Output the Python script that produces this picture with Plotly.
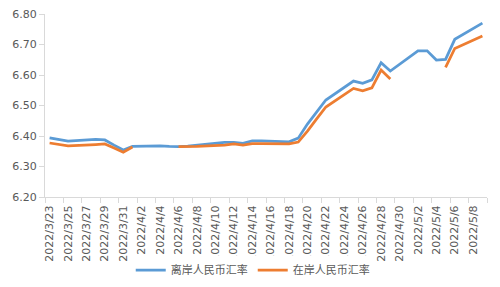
import plotly.graph_objects as go

dates = ["2022-03-23", "2022-03-24", "2022-03-25", "2022-03-28", "2022-03-29", "2022-03-30",
         "2022-03-31", "2022-04-01", "2022-04-04", "2022-04-05", "2022-04-06", "2022-04-07",
         "2022-04-08", "2022-04-11", "2022-04-12", "2022-04-13", "2022-04-14", "2022-04-15",
         "2022-04-18", "2022-04-19", "2022-04-20", "2022-04-21", "2022-04-22", "2022-04-25",
         "2022-04-26", "2022-04-27", "2022-04-28", "2022-04-29", "2022-05-02", "2022-05-03",
         "2022-05-04", "2022-05-05", "2022-05-06", "2022-05-09"]

offshore = [6.394, 6.388, 6.383, 6.389, 6.387, 6.370,
            6.354, 6.366, 6.368, 6.366, 6.365, 6.367,
            6.370, 6.379, 6.379, 6.376, 6.384, 6.384,
            6.381, 6.393, 6.439, 6.479, 6.518, 6.580,
            6.573, 6.584, 6.640, 6.613, 6.679, 6.679,
            6.649, 6.651, 6.717, 6.770]

onshore = [6.377, 6.372, 6.368, 6.372, 6.374, 6.361,
           6.347, 6.364, None, None, 6.365, 6.365,
           6.366, 6.370, 6.374, 6.370, 6.375, 6.375,
           6.374, 6.380, 6.416, 6.456, 6.495, 6.556,
           6.548, 6.558, 6.616, 6.587, None, None,
           None, 6.625, 6.687, 6.728]

names = ["离岸人民币汇率", "在岸人民币汇率"]
colors = ["#5B9BD5", "#ED7D31"]

DAY = 86400000
TICKFONT = "DejaVu Sans, sans-serif"
GRAY_TEXT = "#595959"
AXIS = "#D9D9D9"

fig = go.Figure()
for name, vals, col in zip(names, [offshore, onshore], colors):
    fig.add_trace(go.Scatter(x=dates, y=vals, mode="lines", name=name,
                             line=dict(color=col, width=2.75),
                             connectgaps=False))

fig.update_layout(
    width=500, height=287,
    margin=dict(l=45, r=13, t=14, b=90, autoexpand=False),
    paper_bgcolor="white", plot_bgcolor="white",
    font=dict(family=TICKFONT, size=11, color=GRAY_TEXT),
    showlegend=True,
    legend=dict(orientation="h", x=0.47, xanchor="center", y=-0.40, yanchor="middle",
                font=dict(family="Noto Sans CJK SC, sans-serif", size=11, color=GRAY_TEXT),
                itemwidth=30, traceorder="normal"),
    xaxis=dict(
        type="date", automargin=False,
        range=["2022-03-22 12:00", "2022-05-09 12:00"],
        tickmode="linear", tick0="2022-03-23", dtick=2 * DAY,
        tickformat="%Y/%-m/%-d", tickangle=-90,
        ticks="", ticklabelstandoff=3, showgrid=False, zeroline=False,
        showline=True, linecolor=AXIS, linewidth=1,
        tickfont=dict(family=TICKFONT, size=11, color=GRAY_TEXT),
        minor=dict(ticks="outside", ticklen=5, tickcolor=AXIS, tickwidth=1,
                   tickmode="linear", tick0="2022-03-22 12:00", dtick=2 * DAY, showgrid=False),
    ),
    yaxis=dict(
        range=[6.2, 6.8], tickmode="linear", tick0=6.2, dtick=0.1, automargin=False,
        tickformat=".2f", ticks="outside", ticklen=5, tickcolor=AXIS,
        showgrid=False, zeroline=False,
        showline=True, linecolor=AXIS, linewidth=1,
        tickfont=dict(family=TICKFONT, size=11, color=GRAY_TEXT),
    ),
)

fig.write_html("out.html")
